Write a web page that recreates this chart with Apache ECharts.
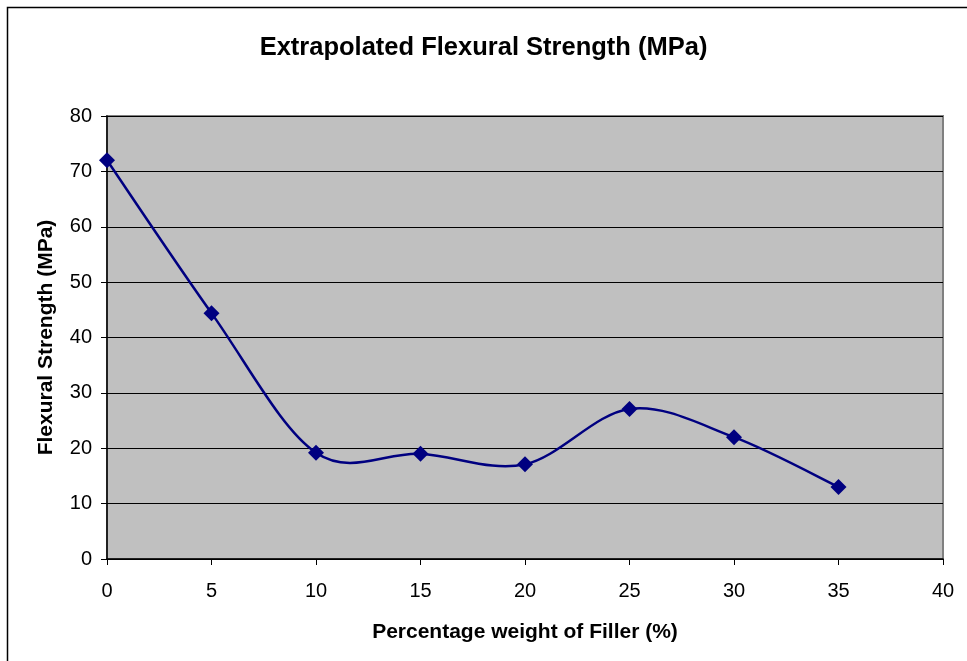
<!DOCTYPE html>
<html>
<head>
<meta charset="utf-8">
<style>
  html, body { margin: 0; padding: 0; background: #fff; }
  #chart { width: 967px; height: 661px; }
</style>
<script src="https://cdn.jsdelivr.net/npm/echarts@6/dist/echarts.min.js"></script>
</head>
<body>
<div id="chart"></div>
<script>
// Filler content (% by weight) and measured flexural strength (MPa)
const fillerPercent = [0, 5, 10, 15, 20, 25, 30, 35];
const flexuralStrength = [72, 44.4, 19.2, 19.0, 17.1, 27.1, 22.0, 13.0];
const xTicks = [0, 5, 10, 15, 20, 25, 30, 35, 40];
const yTicks = [0, 10, 20, 30, 40, 50, 60, 70, 80];

const points = fillerPercent.map((x, i) => [x, flexuralStrength[i]]);
const lineColor = '#000080';

const chart = echarts.init(document.getElementById('chart'));
const font = 'Liberation Sans, Arial, sans-serif';

// Smoothed segment i -> i+1 as a cubic Bezier (Catmull-Rom style tangents),
// computed in pixel space from the axis scales.
function renderSegment(params, api) {
  const i = params.dataIndex;
  if (i >= points.length - 1) return null;
  const c = k => api.coord(points[Math.max(0, Math.min(points.length - 1, k))]);
  const p0 = c(i - 1), p1 = c(i), p2 = c(i + 1), p3 = c(i + 2);
  const cp1 = [p1[0] + (p2[0] - p0[0]) / 6, p1[1] + (p2[1] - p0[1]) / 6];
  const cp2 = [p2[0] - (p3[0] - p1[0]) / 6, p2[1] - (p3[1] - p1[1]) / 6];
  return {
    type: 'bezierCurve',
    shape: { x1: p1[0], y1: p1[1], cpx1: cp1[0], cpy1: cp1[1],
             cpx2: cp2[0], cpy2: cp2[1], x2: p2[0], y2: p2[1] },
    style: { fill: null, stroke: lineColor, lineWidth: 2.5 }
  };
}

chart.setOption({
  animation: false,
  backgroundColor: '#ffffff',
  title: {
    text: 'Extrapolated Flexural Strength (MPa)',
    left: 'center',
    top: 30,
    textStyle: { fontFamily: font, fontSize: 25.5, fontWeight: 'bold', color: '#000' }
  },
  grid: { left: 107, right: 24, top: 116, bottom: 102, show: true,
          backgroundColor: '#c0c0c0', borderColor: '#808080', borderWidth: 2 },
  xAxis: {
    type: 'value',
    min: xTicks[0], max: xTicks[xTicks.length - 1], interval: 5,
    name: 'Percentage weight of Filler (%)',
    nameLocation: 'middle', nameGap: 63,
    nameTextStyle: { fontFamily: font, fontSize: 21, fontWeight: 'bold', color: '#000' },
    axisLine: { show: true, lineStyle: { color: '#000', width: 1.5 } },
    axisTick: { show: true, inside: false, length: 6, lineStyle: { color: '#000' } },
    axisLabel: { fontFamily: font, fontSize: 20, color: '#000', margin: 22 },
    splitLine: { show: false }
  },
  yAxis: {
    type: 'value',
    min: yTicks[0], max: yTicks[yTicks.length - 1], interval: 10,
    name: 'Flexural Strength (MPa)',
    nameLocation: 'middle', nameGap: 50, nameRotate: 90,
    nameTextStyle: { fontFamily: font, fontSize: 21, fontWeight: 'bold', color: '#000' },
    axisLine: { show: true, lineStyle: { color: '#000', width: 1.5 } },
    axisTick: { show: true, inside: false, length: 6, lineStyle: { color: '#000' } },
    axisLabel: { fontFamily: font, fontSize: 20, color: '#000', margin: 15 },
    splitLine: { show: true, lineStyle: { color: '#000', width: 1 } }
  },
  graphic: [{
    type: 'rect',
    shape: { x: 7.5, y: 7.5, width: 1000, height: 700 },
    style: { fill: 'none', stroke: '#000', lineWidth: 1.5 },
    silent: true
  }],
  series: [{
    type: 'custom',
    data: points,
    renderItem: renderSegment,
    clip: true,
    z: 2
  }, {
    type: 'scatter',
    data: points,
    symbol: 'diamond',
    symbolSize: 16,
    itemStyle: { color: lineColor, opacity: 1 },
    z: 3
  }]
});
</script>
</body>
</html>
